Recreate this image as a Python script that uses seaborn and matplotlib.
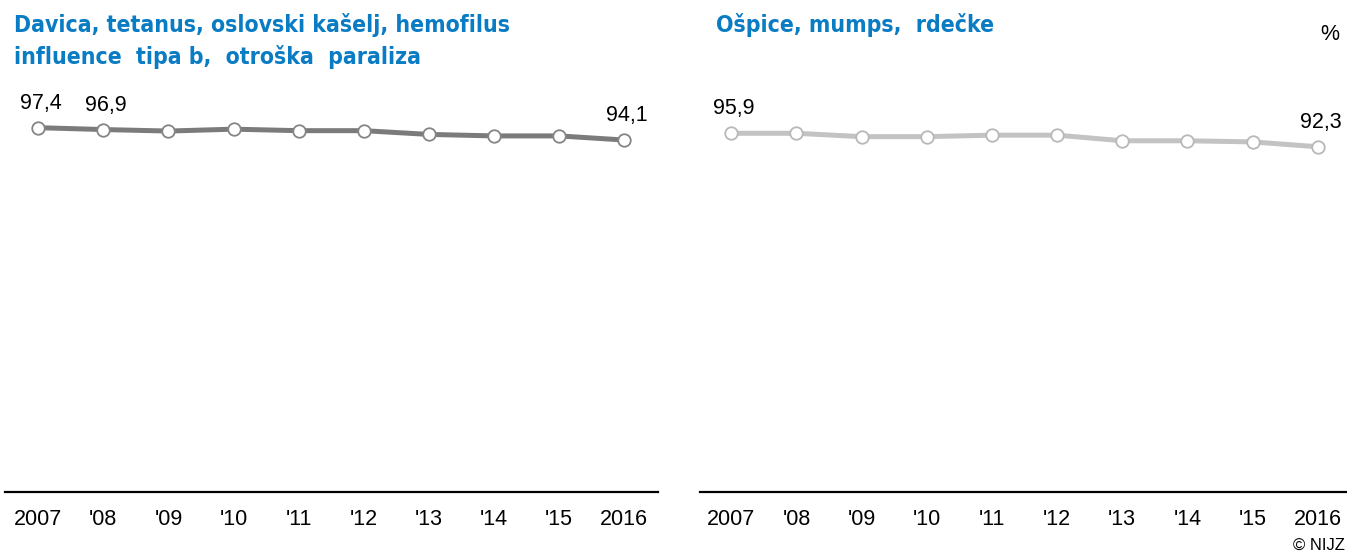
import matplotlib
matplotlib.use("Agg")
import matplotlib.pyplot as plt
import seaborn as sns
import pandas as pd

# podatki (precepljenost, %)
leta = [2007, 2008, 2009, 2010, 2011, 2012, 2013, 2014, 2015, 2016]
oznake_let = ["2007", "'08", "'09", "'10", "'11", "'12", "'13", "'14", "'15", "2016"]
dtp = [97.4, 96.9, 96.5, 97.0, 96.6, 96.6, 95.6, 95.2, 95.2, 94.1]
oms = [95.9, 95.9, 95.0, 95.0, 95.4, 95.4, 93.9, 93.9, 93.6, 92.3]
naslov_levo = "Davica, tetanus, oslovski kašelj, hemofilus\ninfluence  tipa b,  otroška  paraliza"
naslov_desno = "Ošpice, mumps,  rdečke"

sns.set_style("white")
plt.rcParams['font.family'] = ['Liberation Sans', 'DejaVu Sans']
plt.rcParams['text.color'] = 'black'
plt.rcParams['xtick.color'] = 'black'

fig = plt.figure(figsize=(13.47, 5.55), dpi=100)
W, H = 1347, 555

def os_px(x0, x1):
    # axes od y=100 do y=492 px
    return fig.add_axes([x0 / W, (H - 492) / H, (x1 - x0) / W, 392 / H])

ax1 = os_px(5, 658)
ax2 = os_px(700, 1347)

def narisi(ax, vrednosti, barva, rob, xlim, oznacene):
    df = pd.DataFrame({"leto": leta, "vrednost": vrednosti})
    sns.lineplot(data=df, x="leto", y="vrednost", ax=ax, color=barva, lw=3.6,
                 marker="o", markersize=9, markerfacecolor="white",
                 markeredgecolor=rob, markeredgewidth=1.3)
    ax.set_xlim(*xlim)
    ax.set_ylim(0, 104.8)
    ax.set_xticks(leta)
    ax.set_xticklabels(oznake_let, fontsize=15.5)
    ax.set_yticks([])
    ax.set_xlabel("")
    ax.set_ylabel("")
    ax.tick_params(axis="x", length=0, pad=12, colors="black")
    for s in ["top", "left", "right"]:
        ax.spines[s].set_visible(False)
    ax.spines["bottom"].set_color("black")
    ax.spines["bottom"].set_linewidth(1.6)
    for i in oznacene:
        ax.annotate(f"{vrednosti[i]:.1f}".replace(".", ","), (leta[i], vrednosti[i]),
                    xytext=(2, 10), textcoords="offset points", ha="center",
                    va="bottom", fontsize=15.5)

narisi(ax1, dtp, "#7b7b7b", "#858585", (2006.49, 2016.52), [0, 1, 9])
narisi(ax2, oms, "#c3c3c3", "#b8b8b8", (2006.52, 2016.45), [0, 9])

naslov = dict(ha="left", va="top", color="#0a7cc4", fontsize=16.5, fontweight="bold",
              family=['DejaVu Sans'], fontstretch="condensed")
fig.text(14 / W, 1 - 13 / H, naslov_levo, linespacing=1.4, **naslov)
fig.text(716 / W, 1 - 13 / H, naslov_desno, **naslov)
fig.text(1339 / W, 1 - 34 / H, "%", ha="right", va="center", fontsize=15.5)
fig.text(1345 / W, 1 - 545 / H, "© NIJZ", ha="right", va="center", fontsize=12)

fig.savefig("out.png", dpi=100)
